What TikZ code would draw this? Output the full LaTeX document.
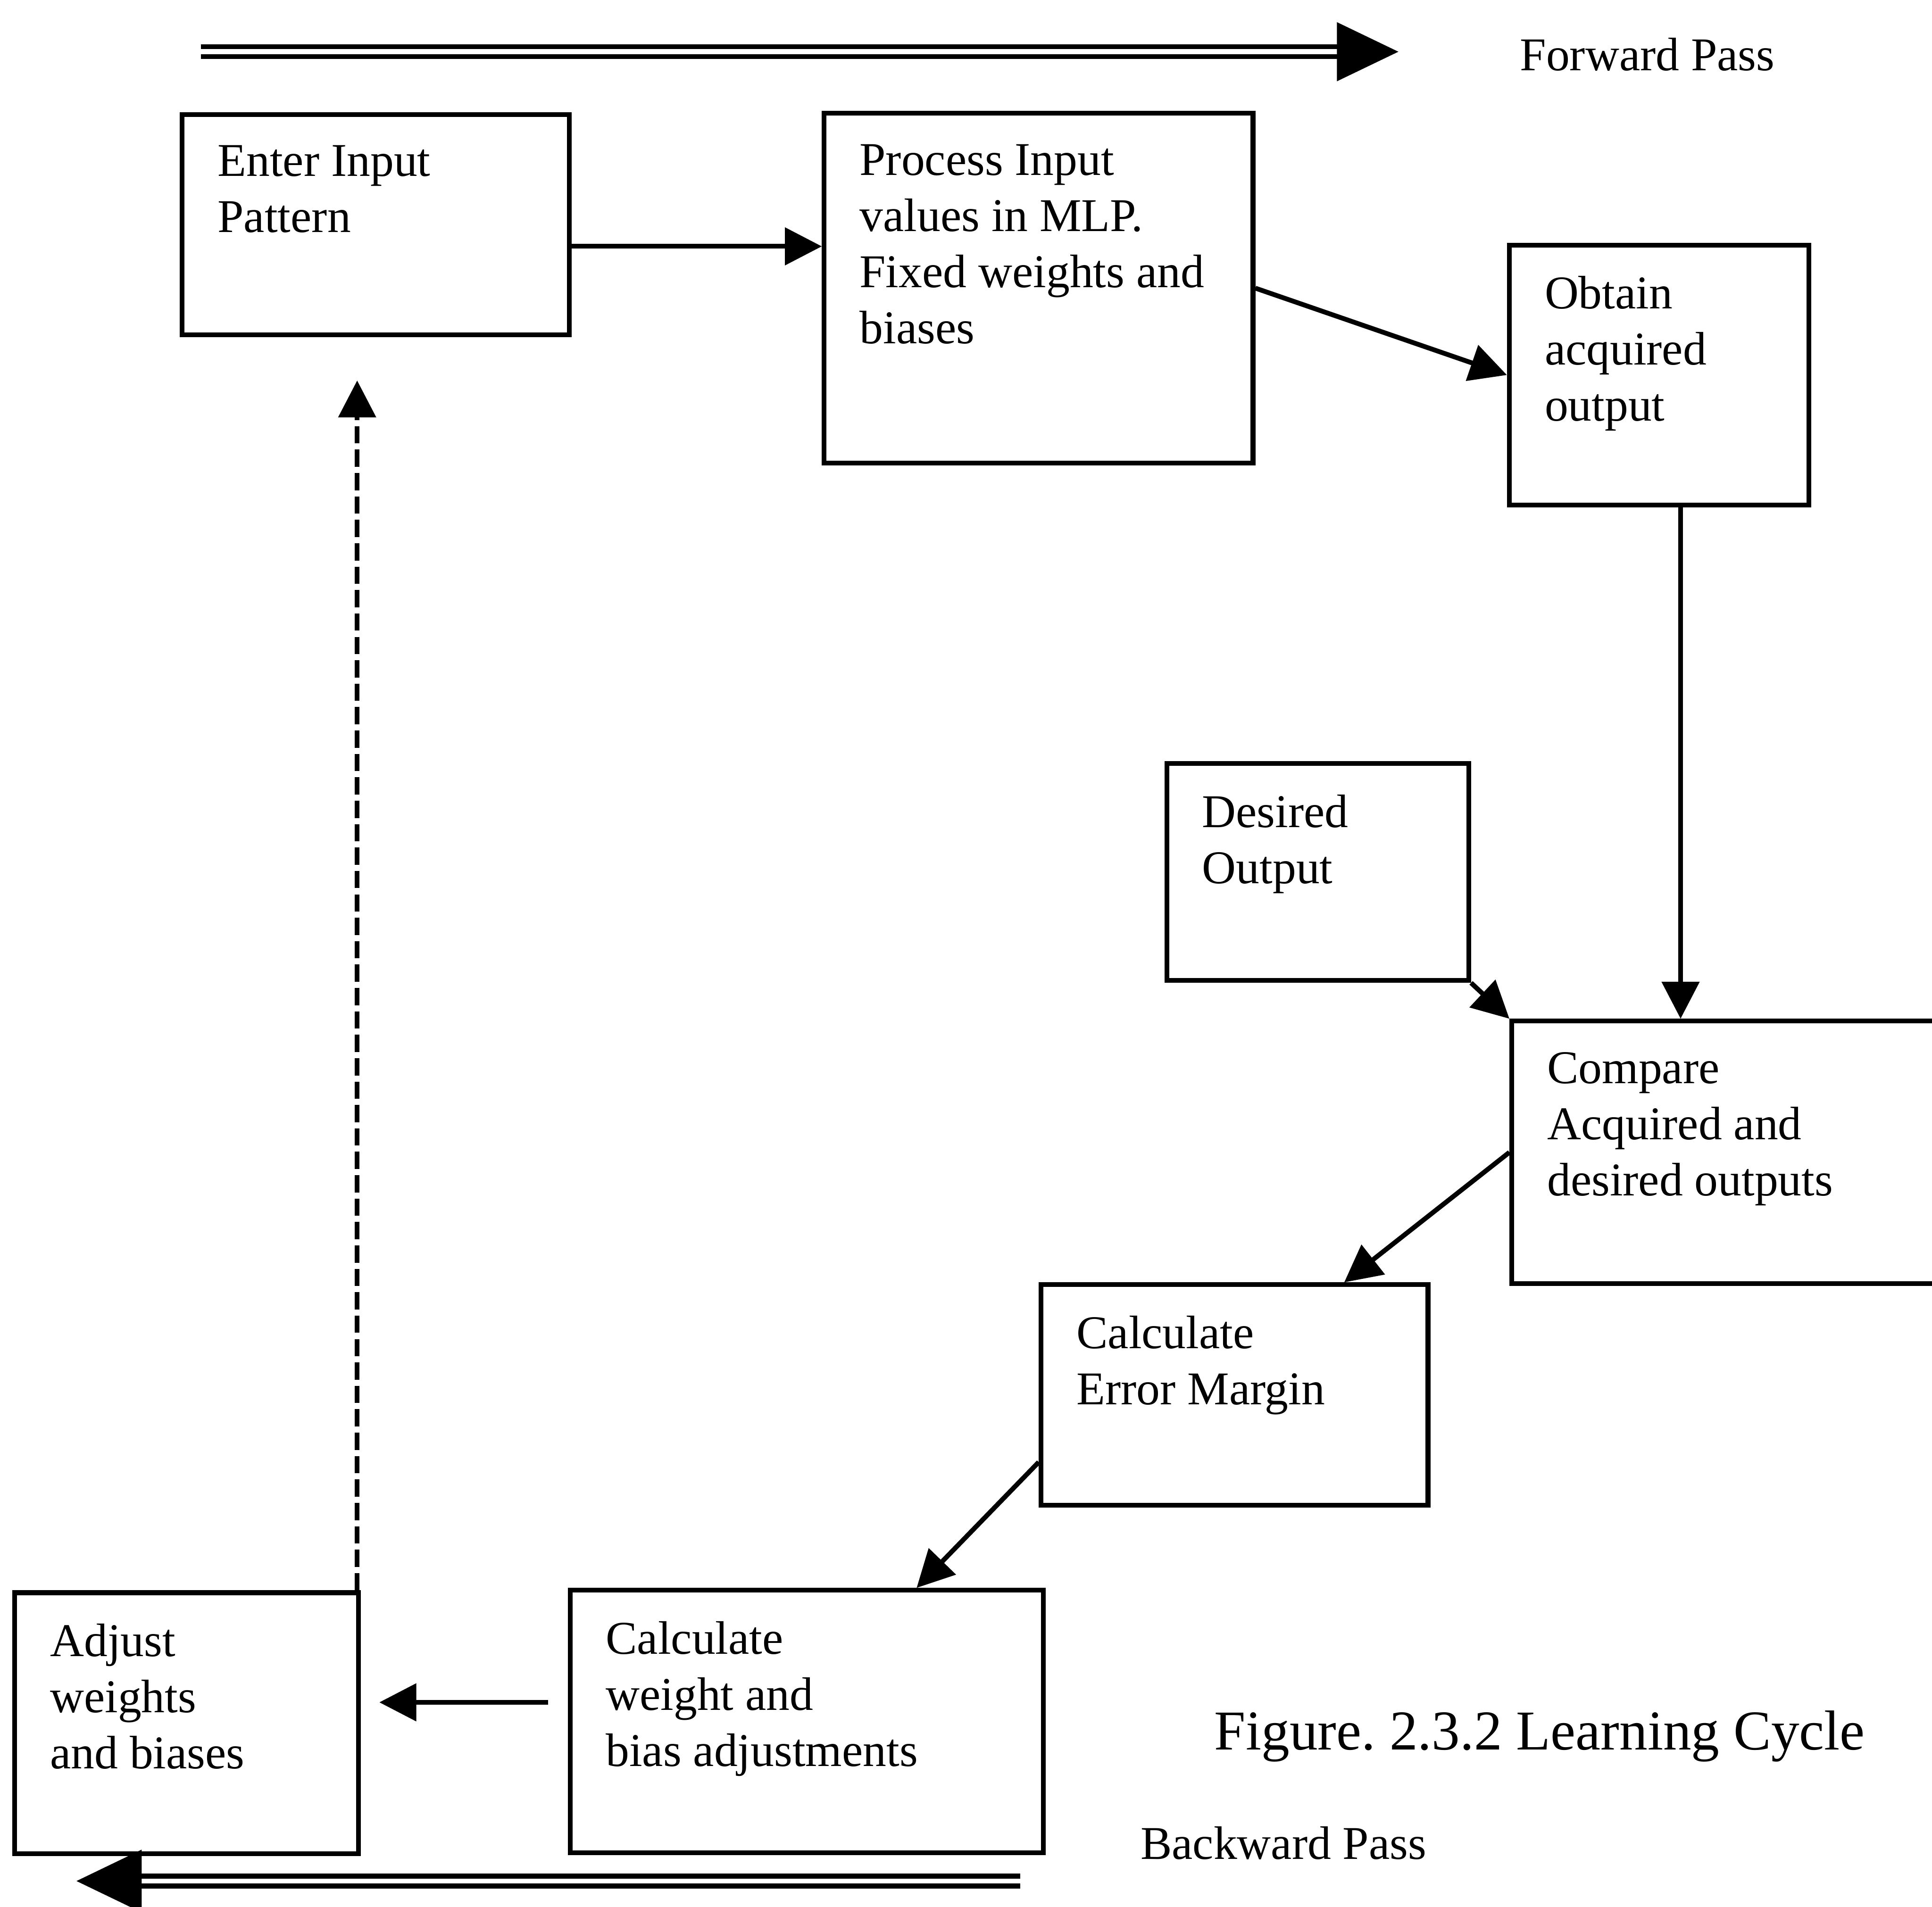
\documentclass[tikz,border=0pt]{standalone}
\usepackage{fontspec}
\setmainfont{Liberation Serif}
\usetikzlibrary{arrows.meta}
\frenchspacing

\newcommand{\stagefont}{\fontsize{10.85}{12.95}\selectfont}

\tikzset{
  stage/.style={draw, line width=1.1pt, rectangle, anchor=north west, inner sep=0pt},
  stagetext/.style={anchor=north west, xshift=3mm, yshift=-2.65mm, align=left, inner sep=0pt, font=\stagefont},
  flow/.style={line width=1.1pt, -{Triangle[length=3mm, width=3mm]}},
  passline/.style={double, line width=0.04cm, double distance=0.04cm},
}

\begin{document}
\begin{tikzpicture}
            \path[use as bounding box, clip] (0, 0) rectangle (15.68, -15.48);

            % forward / backward pass
            \coordinate (fwdstart) at (1.63, -0.42);
            \coordinate (fwdend) at (11.35, -0.42);
            \coordinate (bwdstart) at (8.28, -15.27);
            \coordinate (bwdend) at (0.62, -15.27);
            \draw[passline, -{Triangle[length=5mm, width=4.7mm]}] (fwdstart) -- (fwdend);
            \draw[passline, -{Triangle[length=5.3mm, width=5mm]}] (bwdstart) -- (bwdend);
            \node[anchor=north west, inner sep=0pt, font=\stagefont] (fwdlabel) at (12.33, -0.30) {Forward Pass};
            \node[anchor=north west, inner sep=0pt, font=\stagefont] (bwdlabel) at (9.25, -14.82) {Backward Pass};

            % stages
            \node[stage, minimum width=3.14cm, minimum height=1.79cm, label={[stagetext]north west:{Enter Input\\Pattern}}] (enter) at (1.46, -0.91) {};
            \node[stage, minimum width=3.48cm, minimum height=2.84cm, label={[stagetext]north west:{Process Input\\values in MLP.\\Fixed weights and\\biases}}] (process) at (6.67, -0.90) {};
            \node[stage, minimum width=2.43cm, minimum height=2.11cm, label={[stagetext]north west:{Obtain\\acquired\\output}}] (obtain) at (12.23, -1.97) {};
            \node[stage, minimum width=2.45cm, minimum height=1.76cm, label={[stagetext]north west:{Desired\\Output}}] (desired) at (9.45, -6.18) {};
            \node[stage, minimum width=4.00cm, minimum height=2.13cm, label={[stagetext]north west:{Compare\\Acquired and\\desired outputs}}] (compare) at (12.25, -8.27) {};
            \node[stage, minimum width=3.14cm, minimum height=1.79cm, label={[stagetext]north west:{Calculate\\Error Margin}}] (errmargin) at (8.43, -10.41) {};
            \node[stage, minimum width=3.84cm, minimum height=2.13cm, label={[stagetext]north west:{Calculate\\weight and\\bias adjustments}}] (adjcalc) at (4.61, -12.89) {};
            \node[stage, minimum width=2.79cm, minimum height=2.12cm, label={[stagetext]north west:{Adjust\\weights\\and biases}}] (adjust) at (0.10, -12.91) {};

            \draw[flow] (enter.east |- 0, -2.00) -- (process.west |- 0, -2.00);
            \draw[flow] (process.east) -- (obtain.west);
            \draw[flow] ([xshift=1.75mm]obtain.south) -- ([xshift=1.75mm]obtain.south |- compare.north);
            \draw[flow] (desired.south east) -- (compare.north west);
            \draw[flow] (compare.west) -- ([xshift=8.9mm]errmargin.north);
            \draw[flow] ([yshift=-5.45mm]errmargin.west) -- ([xshift=8.9mm]adjcalc.north);
            \draw[flow, shorten <=1.6mm, shorten >=1.5mm] ([yshift=1.55mm]adjcalc.west) -- ([yshift=1.55mm]adjcalc.west -| adjust.east);
            \draw[flow, dash pattern=on 1.4mm off 0.5mm, shorten >=3.5mm] ([xshift=-0.3mm]adjust.north east) -- ([xshift=-0.3mm]adjust.north east |- enter.south);

            \node[anchor=north west, inner sep=0pt, font=\fontsize{13}{15}\selectfont] (caption) at (9.85, -13.88) {Figure. 2.3.2 Learning Cycle};
        \end{tikzpicture}
\end{document}
